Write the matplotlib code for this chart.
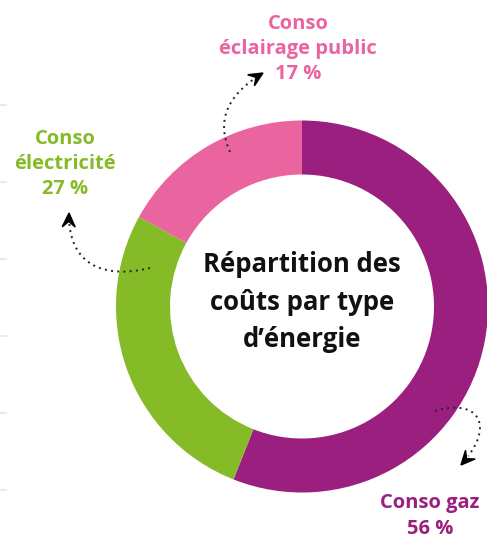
import numpy as np
import matplotlib.pyplot as plt
from matplotlib.patches import Polygon

# --- Données ---
categories = ["Conso gaz", "Conso électricité", "Conso éclairage public"]
parts = [56, 27, 17]
couleurs = ["#9a1f7e", "#84bb27", "#ea64a0"]
titre_centre = "Répartition des\ncoûts par type\nd’énergie"

FONT = ["Open Sans", "DejaVu Sans"]

# figure en coordonnées pixels (y vers le bas)
fig = plt.figure(figsize=(4.87, 5.39), dpi=100)
ax = fig.add_axes([0, 0, 1, 1])

centre = (302, 306.5)
rayon = 186
ax.pie(parts, colors=couleurs, startangle=-90, counterclock=True,
       radius=rayon, center=centre,
       wedgeprops=dict(width=54, linewidth=0, antialiased=True))
ax.set_xlim(0, 487)
ax.set_ylim(539, 0)
ax.set_aspect("equal")
ax.axis("off")

# petits traits gris sur le bord gauche
for y in [105, 182, 259, 336, 413, 490]:
    ax.plot([0, 7], [y, y], color="#e3e7ee", lw=1.2, solid_capstyle="butt")

# texte central
ax.text(302, 302, titre_centre, ha="center", va="center", fontsize=18.5,
        family=FONT, weight="bold", color="#111111", linespacing=1.48)


# --- flèches pointillées ---
def fleche(p0, p1, p2, p3):
    t = np.linspace(0, 1, 80)[:, None]
    pts = ((1 - t) ** 3 * np.array(p0) + 3 * (1 - t) ** 2 * t * np.array(p1)
           + 3 * (1 - t) * t ** 2 * np.array(p2) + t ** 3 * np.array(p3))
    d = np.array(p3, float) - np.array(p2, float)
    d /= np.linalg.norm(d)
    n = np.array([-d[1], d[0]])
    tip = np.array(p3, float)
    L, W = 14, 6.5
    base = tip - d * L
    notch = tip - d * L * 0.6
    # on arrête le pointillé avant la tête
    keep = np.linalg.norm(pts - tip, axis=1) > L * 0.7
    ax.plot(pts[keep, 0], pts[keep, 1], color="#222222", lw=1.4,
            linestyle=(0, (1, 2.2)), zorder=5)
    head = Polygon([tip, base + n * W, notch, base - n * W], closed=True,
                   color="black", zorder=6)
    ax.add_patch(head)


fleche((230, 152), (218, 125), (222, 98), (263, 73))
fleche((150, 268), (100, 280), (68, 262), (69, 213))
fleche((435, 411), (478, 398), (497, 425), (461, 465))

# --- étiquettes ---
ax.text(298, 49, "Conso\néclairage public\n17 %", ha="center", va="center",
        fontsize=14.5, family=FONT, weight="bold", color=couleurs[2],
        linespacing=1.36)
ax.text(65, 164, "Conso\nélectricité\n27 %", ha="center", va="center",
        fontsize=14.5, family=FONT, weight="bold", color=couleurs[1],
        linespacing=1.36)
ax.text(430, 516, "Conso gaz\n56 %", ha="center", va="center",
        fontsize=14.5, family=FONT, weight="bold", color=couleurs[0],
        linespacing=1.36)

fig.savefig("out.png", dpi=100)
